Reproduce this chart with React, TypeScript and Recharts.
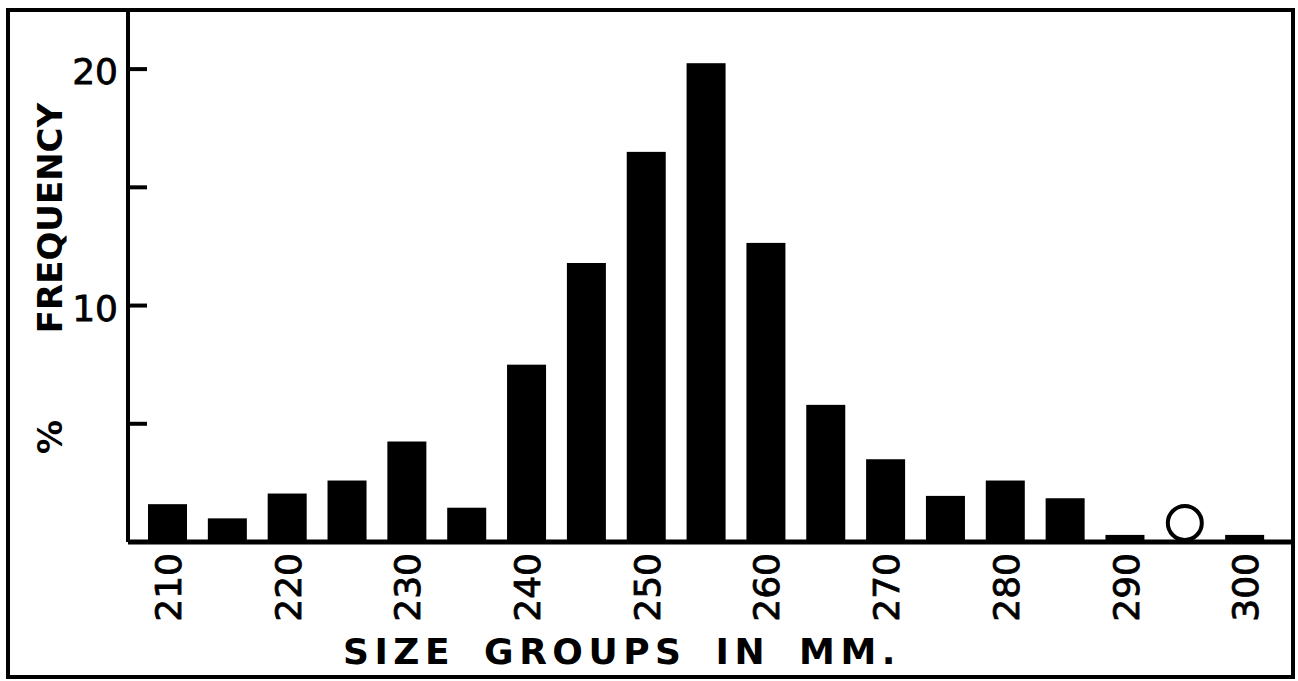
import { ComposedChart, Bar, XAxis, YAxis } from 'recharts';

// size groups (mm) and % frequency
const sizeGroups = [210, 215, 220, 225, 230, 235, 240, 245, 250, 255, 260, 265, 270, 275, 280, 285, 290, 295, 300];
const frequency = [1.6, 1.0, 2.05, 2.6, 4.25, 1.45, 7.5, 11.8, 16.5, 20.25, 12.65, 5.8, 3.5, 1.95, 2.6, 1.85, 0.3, 0, 0.3];
const yTicks = [5, 10, 15, 20];
const yTickLabels = [10, 20];

const chartData = sizeGroups.map((size, i) => ({ size, freq: frequency[i] }));

const FONT = "'DejaVu Sans', sans-serif";

const YTick = (props: any) => {
  const { x, y, payload } = props;
  return (
    <g>
      <line x1={x} x2={x + 19} y1={y} y2={y} stroke="#000" strokeWidth={4} />
      {yTickLabels.includes(payload.value) && (
        <text
          x={x - 10}
          y={y}
          dy="0.42em"
          textAnchor="end"
          fontSize={36}
          fontFamily={FONT}
          fill="#000"
          stroke="#000"
          strokeWidth={0.8}
        >
          {payload.value}
        </text>
      )}
    </g>
  );
};

const XTick = (props: any) => {
  const { x, y, payload } = props;
  if (payload.value % 10 !== 0) return null;
  const ty = y + 11;
  return (
    <text
      x={x}
      y={ty}
      dy="0.365em"
      transform={`rotate(-90, ${x}, ${ty})`}
      textAnchor="end"
      fontSize={36}
      fontFamily={FONT}
      fill="#000"
      stroke="#000"
      strokeWidth={0.8}
    >
      {payload.value}
    </text>
  );
};

const XTitle = (props: any) => {
  const { viewBox } = props;
  if (!viewBox) return null;
  return (
    <text
      x={viewBox.x + 494}
      y={viewBox.y + 122}
      textAnchor="middle"
      fontSize={36}
      fontWeight="bold"
      letterSpacing={5.5}
      wordSpacing={11}
      fontFamily={FONT}
      fill="#000"
    >
      SIZE GROUPS IN MM.
    </text>
  );
};

const YTitle = (props: any) => {
  const { viewBox } = props;
  if (!viewBox) return null;
  const cx = 50;
  return (
    <g fontFamily={FONT} fontWeight="bold" fontSize={34} fill="#000">
      <text x={cx} y={437} textAnchor="middle" dy="0.365em" transform={`rotate(-90, ${cx}, 437)`}>
        %
      </text>
      <text x={cx} y={218} textAnchor="middle" dy="0.365em" transform={`rotate(-90, ${cx}, 218)`}>
        FREQUENCY
      </text>
    </g>
  );
};

// bars, with an open circle marking an empty size group
const BarShape = (props: any) => {
  const { x, y, width, height, value } = props;
  if (!value) {
    const r = 17;
    return <circle cx={x + width / 2} cy={y - r - 2} r={r} fill="none" stroke="#000" strokeWidth={4} />;
  }
  return <rect x={x} y={y} width={width} height={height} fill="#000" />;
};

export default function App() {
  return (
    <div style={{ position: 'absolute', left: 0, top: 0, width: 1298, height: 681, background: '#fff' }}>
      <ComposedChart
        width={1298}
        height={681}
        data={chartData}
        margin={{ top: 10, right: 5, left: 0, bottom: 0 }}
      >
        <XAxis
          dataKey="size"
          height={139}
          padding={{ left: 10, right: 18 }}
          axisLine={{ stroke: '#000', strokeWidth: 5 }}
          tickLine={false}
          tickSize={0}
          tickMargin={0}
          interval={0}
          tick={<XTick />}
          label={<XTitle />}
        />
        <YAxis
          width={128}
          domain={[0, 22.5]}
          ticks={yTicks}
          axisLine={{ stroke: '#000', strokeWidth: 4 }}
          tickLine={false}
          tickSize={0}
          tickMargin={0}
          tick={<YTick />}
          label={<YTitle />}
        />
        <Bar dataKey="freq" barSize={39} shape={<BarShape />} isAnimationActive={false} />
      </ComposedChart>
      <div
        style={{
          position: 'absolute',
          left: 6,
          top: 8,
          width: 1289,
          height: 671,
          border: '4px solid #000',
          boxSizing: 'border-box',
          pointerEvents: 'none',
        }}
      />
    </div>
  );
}
